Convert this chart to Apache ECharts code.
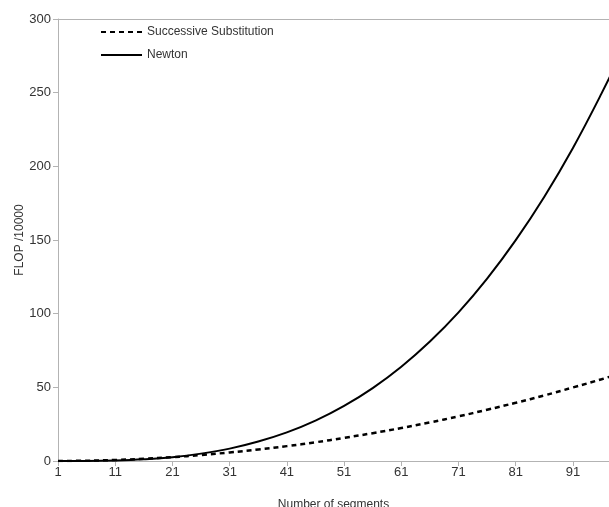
<!DOCTYPE html>
<html>
<head>
<meta charset="utf-8">
<script src="https://cdn.jsdelivr.net/npm/echarts@6/dist/echarts.min.js"></script>
<style>
  html, body { margin: 0; padding: 0; background: #fff; }
  #chart { width: 609px; height: 507px; }
</style>
</head>
<body>
<div id="chart"></div>
<script>
// number of segments (x) and FLOP/10000
const segments = [1, 6, 11, 16, 21, 26, 31, 36, 41, 46, 51, 56, 61, 66, 71, 76, 81, 86, 91, 96, 101];
const successive = [0, 0.2, 0.7, 1.5, 2.6, 4.1, 5.8, 7.8, 10.1, 12.7, 15.7, 18.9, 22.4, 26.2, 30.3, 34.8, 39.5, 44.5, 49.9, 55.5, 61.4];
const newton = [0, 0.06, 0.4, 1.2, 2.6, 5.0, 8.4, 13.2, 19.4, 27.4, 37.4, 49.5, 64.0, 81.1, 100.9, 123.8, 149.9, 179.4, 212.5, 249.5, 289];
const xTicks = [1, 11, 21, 31, 41, 51, 61, 71, 81, 91];

const font = 'Liberation Sans, Arial, sans-serif';
const axisGray = '#b3b3b3';
const textColor = '#333';

const chart = echarts.init(document.getElementById('chart'), null, { renderer: 'canvas' });
chart.setOption({
  animation: false,
  textStyle: { fontFamily: font },
  grid: { left: 58, right: 0, top: 19, bottom: 46, containLabel: false, outerBoundsMode: 'none' },
  legend: {
    orient: 'vertical',
    left: 100,
    top: 26,
    padding: 0,
    itemWidth: 41,
    itemHeight: 14,
    itemGap: 11,
    itemStyle: { opacity: 0 },
    textStyle: { fontFamily: font, fontSize: 12, color: textColor },
    data: ['Successive Substitution', 'Newton'],
  },
  // y axis title, placed by hand (the axis name kept getting pushed to the edge)
  graphic: [
    {
      type: 'text',
      x: 20,
      y: 240,
      rotation: Math.PI / 2,
      style: {
        text: 'FLOP /10000',
        fontFamily: font,
        fontSize: 12,
        fill: textColor,
        align: 'center',
        verticalAlign: 'middle',
      },
    },
  ],
  xAxis: [
    {
      type: 'value',
      min: 1,
      max: 97.3,
      name: 'Number of segments',
      nameLocation: 'middle',
      nameGap: 38,
      nameTextStyle: { fontFamily: font, fontSize: 12, color: textColor },
      axisLine: { lineStyle: { color: axisGray, width: 1 } },
      axisTick: { show: true, length: 5, customValues: xTicks, lineStyle: { color: axisGray } },
      axisLabel: { customValues: xTicks, fontFamily: font, fontSize: 13, color: textColor, margin: 5 },
      splitLine: { show: false },
    },
    {
      type: 'value',
      position: 'top',
      min: 1,
      max: 97.3,
      axisLine: { show: true, lineStyle: { color: axisGray, width: 1 } },
      axisTick: { show: false },
      axisLabel: { show: false },
      splitLine: { show: false },
    },
  ],
  yAxis: {
    type: 'value',
    min: 0,
    max: 300,
    interval: 50,
    axisLine: { show: true, lineStyle: { color: axisGray, width: 1 } },
    axisTick: { show: true, length: 5, lineStyle: { color: axisGray } },
    axisLabel: { fontFamily: font, fontSize: 13, color: textColor, margin: 7 },
    splitLine: { show: false },
  },
  series: [
    {
      name: 'Successive Substitution',
      type: 'line',
      data: segments.map((s, i) => [s, successive[i]]),
      smooth: 0.4,
      showSymbol: false,
      symbol: 'none',
      lineStyle: { color: '#000', width: 2.5, type: [5, 4] },
      itemStyle: { color: '#000' },
    },
    {
      name: 'Newton',
      type: 'line',
      data: segments.map((s, i) => [s, newton[i]]),
      smooth: 0.4,
      showSymbol: false,
      symbol: 'none',
      lineStyle: { color: '#000', width: 2 },
      itemStyle: { color: '#000' },
    },
  ],
});
</script>
</body>
</html>
